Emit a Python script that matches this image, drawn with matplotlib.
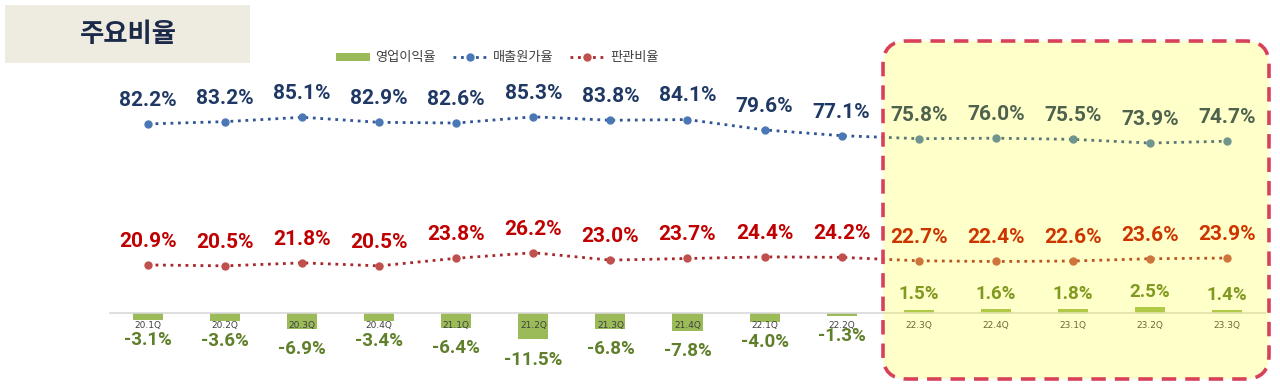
import matplotlib
matplotlib.use("Agg")
import matplotlib.pyplot as plt
from matplotlib.patches import Rectangle, FancyBboxPatch, Patch
from matplotlib.lines import Line2D

quarters = ["20.1Q", "20.2Q", "20.3Q", "20.4Q", "21.1Q", "21.2Q", "21.3Q", "21.4Q",
            "22.1Q", "22.2Q", "22.3Q", "22.4Q", "23.1Q", "23.2Q", "23.3Q"]
cost_ratio = [82.2, 83.2, 85.1, 82.9, 82.6, 85.3, 83.8, 84.1, 79.6, 77.1, 75.8, 76.0, 75.5, 73.9, 74.7]
sga_ratio = [20.9, 20.5, 21.8, 20.5, 23.8, 26.2, 23.0, 23.7, 24.4, 24.2, 22.7, 22.4, 22.6, 23.6, 23.9]
op_margin = [-3.1, -3.6, -6.9, -3.4, -6.4, -11.5, -6.8, -7.8, -4.0, -1.3, 1.5, 1.6, 1.8, 2.5, 1.4]

KR = ["Noto Sans CJK KR", "DejaVu Sans"]
NUM = ["Roboto", "DejaVu Sans"]

W, H = 1280, 386
fig = plt.figure(figsize=(W / 100, H / 100), dpi=100)
fig.patch.set_facecolor("white")

# main axes: x index -> pixels (148 + 77.07*i), y value -> pixels (313 - 2.3*v)
x0 = 148 - 38.5
x1 = 148 + 77.07 * 14 + 38.5
ax = fig.add_axes([x0 / W, 0, (x1 - x0) / W, 1])
ax.set_xlim(-0.5, 14.5)
ax.set_ylim(-(H - 313) / 2.3, 313 / 2.3)
ax.set_facecolor("none")
for s in ["left", "right", "top"]:
    ax.spines[s].set_visible(False)
ax.spines["bottom"].set_position(("data", 0))
ax.spines["bottom"].set_color("#D9D9D9")
ax.spines["bottom"].set_linewidth(1.2)
ax.set_yticks([])
xs = list(range(len(quarters)))
ax.set_xticks(xs)
ax.set_xticklabels(quarters, fontsize=6.5, color="#404040")
ax.tick_params(axis="x", length=0, pad=6)

BLUE_L, BLUE_M = "#2F5597", "#4A78B5"
RED_L, RED_M = "#A8282A", "#C0504D"
DOT = (0, (1, 1.7))

ax.bar(xs, op_margin, width=0.39, color="#9BBB59", zorder=1)
ax.plot(xs, cost_ratio, linestyle=DOT, linewidth=2, color=BLUE_L,
        marker="o", markersize=5, markerfacecolor=BLUE_M, markeredgecolor=BLUE_M, zorder=3)
ax.plot(xs, sga_ratio, linestyle=DOT, linewidth=2, color=RED_L,
        marker="o", markersize=5, markerfacecolor=RED_M, markeredgecolor=RED_M, zorder=3)

for x, v in zip(xs, cost_ratio):
    ax.annotate(f"{v:.1f}%", (x, v), xytext=(0, 17), textcoords="offset points",
                ha="center", va="center", fontsize=15, fontweight="bold",
                color="#1F3864", family=NUM)
for x, v in zip(xs, sga_ratio):
    ax.annotate(f"{v:.1f}%", (x, v), xytext=(0, 17), textcoords="offset points",
                ha="center", va="center", fontsize=15, fontweight="bold",
                color="#C00000", family=NUM)
for x, v in zip(xs, op_margin):
    off = -14.5 if v < 0 else 11
    ax.annotate(f"{v:.1f}%", (x, v), xytext=(0, off), textcoords="offset points",
                ha="center", va="center", fontsize=13.5, fontweight="bold",
                color="#5F7F2A", family=NUM)

# overlay in pixel coordinates
ov = fig.add_axes([0, 0, 1, 1], zorder=10)
ov.set_xlim(0, W)
ov.set_ylim(H, 0)
ov.axis("off")
ov.patch.set_alpha(0)

ov.add_patch(Rectangle((5, 5), 245, 58, facecolor="#EEEBE1", edgecolor="none"))
ov.text(128, 34, "주요비율", ha="center", va="center", fontsize=19, fontweight="bold",
        color="#1B2A49", family=KR)

ov.add_patch(FancyBboxPatch((883, 41), 386, 338, boxstyle="round,pad=0,rounding_size=24",
                            facecolor="#FFFF00", alpha=0.21, edgecolor="none"))
ov.add_patch(FancyBboxPatch((883, 41), 386, 338, boxstyle="round,pad=0,rounding_size=24",
                            facecolor="none", edgecolor="#D9415B", linewidth=2.6,
                            linestyle=(0, (4, 2.5))))

handles = [
    Patch(facecolor="#9BBB59", edgecolor="none"),
    Line2D([], [], linestyle=DOT, linewidth=2, color=BLUE_L, marker="o",
           markersize=5, markerfacecolor=BLUE_M, markeredgecolor=BLUE_M),
    Line2D([], [], linestyle=DOT, linewidth=2, color=RED_L, marker="o",
           markersize=5, markerfacecolor=RED_M, markeredgecolor=RED_M),
]
labels = ["영업이익율", "매출원가율", "판관비율"]
leg = fig.legend(handles, labels, loc="center", bbox_to_anchor=(497 / W, 1 - 58 / H),
                 ncol=3, frameon=False, prop={"family": KR, "size": 9.5},
                 handlelength=2.6, handleheight=0.6, handletextpad=0.4, columnspacing=1.3)
for t in leg.get_texts():
    t.set_color("#404040")

fig.savefig("out.png", dpi=100)
